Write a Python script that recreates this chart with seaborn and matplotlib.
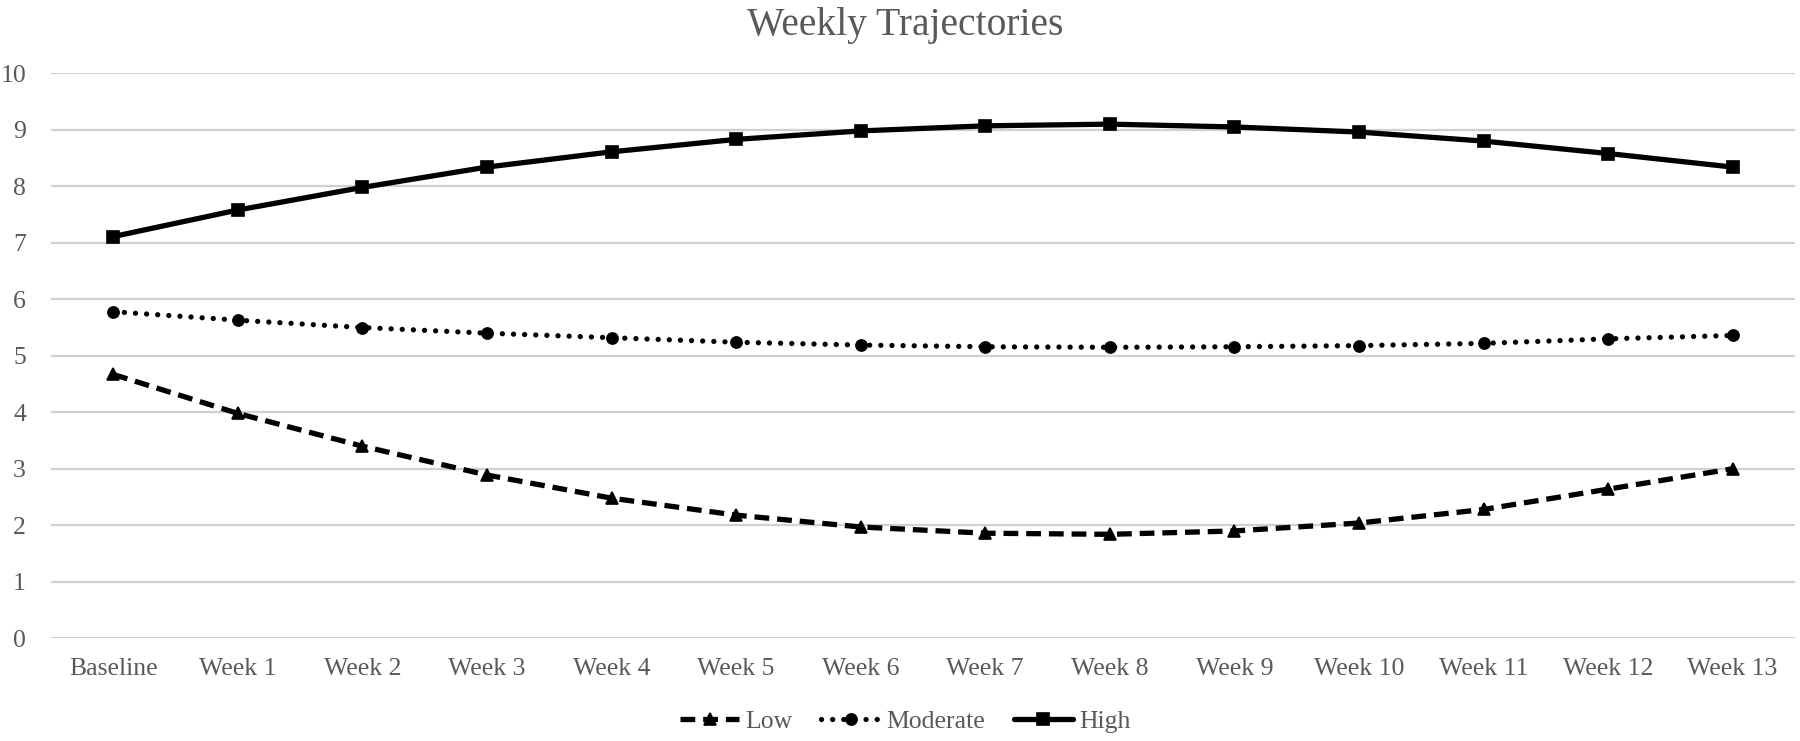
import pandas as pd
import seaborn as sns
import matplotlib.pyplot as plt

# Datos
semanas = ['Baseline', 'Week 1', 'Week 2', 'Week 3', 'Week 4', 'Week 5', 'Week 6',
           'Week 7', 'Week 8', 'Week 9', 'Week 10', 'Week 11', 'Week 12', 'Week 13']
bajo = [4.67, 3.98, 3.40, 2.89, 2.48, 2.18, 1.97, 1.86, 1.84, 1.90, 2.04, 2.28, 2.64, 3.00]
moderado = [5.78, 5.63, 5.50, 5.40, 5.32, 5.24, 5.19, 5.16, 5.15, 5.16, 5.18, 5.22, 5.30, 5.36]
alto = [7.11, 7.58, 7.98, 8.34, 8.61, 8.83, 8.98, 9.07, 9.10, 9.05, 8.96, 8.80, 8.58, 8.34]
grupos = ['Low', 'Moderate', 'High']

datos = pd.DataFrame({
    'Semana': semanas * 3,
    'Puntaje': bajo + moderado + alto,
    'Grupo': [g for g in grupos for _ in semanas],
})

sns.set_style('white')
plt.rcParams['font.family'] = ['Liberation Serif', 'DejaVu Serif']
gris = '#595959'

fig = plt.figure(figsize=(18, 7.41), dpi=100)
ax = fig.add_axes([0.0283, 0.1386, 0.9689, 0.7625])

sns.lineplot(data=datos, x='Semana', y='Puntaje', hue='Grupo', style='Grupo',
             palette={'Low': 'black', 'Moderate': 'black', 'High': 'black'},
             dashes={'Low': (2.8, 1.5), 'Moderate': (0.01, 2.1), 'High': ''},
             markers={'Low': '^', 'Moderate': 'o', 'High': 's'},
             markersize=8, markeredgecolor='black', markeredgewidth=1.2,
             linewidth=3.8, sort=False, ax=ax)

# puntos redondos para la serie punteada
for linea in ax.lines:
    if linea.get_label() in ('Moderate', '_child1'):
        linea.set_dash_capstyle('round')
ax.lines[1].set_dash_capstyle('round')

ax.set_xlim(-0.5, 13.5)
ax.set_ylim(0, 10)
ax.set_yticks(range(0, 11))
ax.set_xlabel('')
ax.set_ylabel('')
ax.yaxis.grid(True, color='#d0d0d0', linewidth=1.6)
ax.xaxis.grid(False)
for lado in ax.spines.values():
    lado.set_visible(False)
ax.tick_params(axis='x', length=0, pad=14, labelsize=18.5, labelcolor=gris)
ax.tick_params(axis='y', length=0, pad=18, labelsize=18.5, labelcolor=gris)

manejadores, etiquetas = ax.get_legend_handles_labels()
for h in manejadores:
    if h.get_label() == 'Moderate':
        h.set_dash_capstyle('round')
ax.legend(manejadores, etiquetas, loc='center', bbox_to_anchor=(0.503, 0.026),
          bbox_transform=fig.transFigure, ncol=3, frameon=False,
          prop={'family': 'Liberation Serif', 'size': 18.5},
          labelcolor=gris, handlelength=2.3, handletextpad=0.25, columnspacing=1.1)

fig.text(0.503, 0.966, 'Weekly Trajectories', ha='center', va='center',
         fontsize=28.5, color=gris)

plt.savefig('out.png', dpi=100)
